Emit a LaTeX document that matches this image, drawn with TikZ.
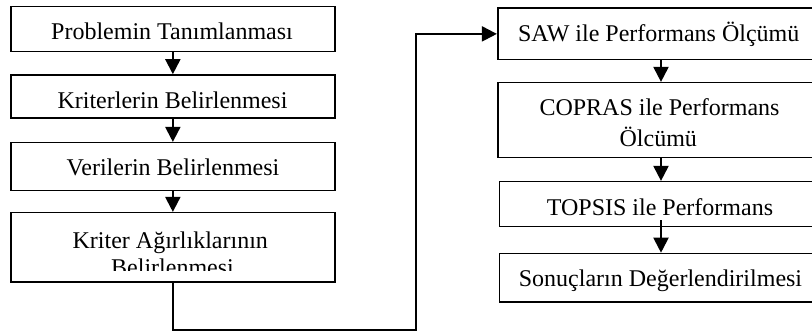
\documentclass[tikz,border=0pt]{standalone}
\usepackage{fontspec}
\setmainfont{Liberation Serif}
\usetikzlibrary{arrows.meta,calc}
\begin{document}
\begin{tikzpicture}[x=1pt,y=-1pt,
  box/.style={draw,line width=1.6pt,rectangle,inner sep=0pt,minimum width=#1},
  txt/.style={anchor=base,inner sep=0pt,font=\fontsize{24}{27.6}\selectfont},
  arr/.style={line width=2pt,-{Triangle[length=15pt,width=15pt]}},
  conn/.style={line width=2.2pt}]
\useasboundingbox (0,0) rectangle (812,334);
\clip (0,0) rectangle (812,334);
% left boxes
\node[box=324.3pt,minimum height=45pt] (b1) at (172.85,29.2) {};
\node[box=324.3pt,minimum height=43.3pt] (b2) at (172.85,96.65) {};
\node[box=324.3pt,minimum height=48pt] (b3) at (172.85,166.7) {};
\node[box=324.3pt,minimum height=69.3pt] (b4) at (172.85,247.35) {};
% right boxes
\node[box=322.3pt,minimum height=51.2pt] (b5) at (658.85,33.9) {};
\node[box=322.3pt,minimum height=75pt] (b6) at (658.85,120.2) {};
\node[box=320.5pt,minimum height=44.8pt] (b7) at (659.75,204.1) {};
\node[box=320.5pt,minimum height=48.2pt] (b8) at (659.75,277.6) {};
% texts
\node[txt] (t1) at (172,39.5) {Problemin Tanımlanması};
\node[txt] (t2) at (172.5,108.3) {Kriterlerin Belirlenmesi};
\node[txt] (t3) at (173,176) {Verilerin Belirlenmesi};
\node[txt] (t4a) at (170.3,248) {Kriter Ağırlıklarının};
\begin{scope}
\clip (90,252) rectangle (260,270.5);
\node[txt] (t4b) at (172.5,275.3) {Belirlenmesi};
\end{scope}
\node[txt] (t5) at (658.7,41.5) {SAW ile Performans Ölçümü};
\node[txt] (t6a) at (659.5,115.5) {COPRAS ile Performans};
\node[txt] (t6b) at (658.3,146.7) {Ölcümü};
\node[txt] (t7) at (660,215) {TOPSIS ile Performans};
\node[txt] (t8) at (660.5,287) {Sonuçların Değerlendirilmesi};
% connectors
\coordinate (ax) at (661,0);
\coordinate (cx) at (416,330);
\draw[arr] (b1.south) -- (b2.north);
\draw[arr] (b2.south) -- (b3.north);
\draw[arr] (b3.south) -- (b4.north);
\draw[arr] (b5.south -| ax) -- (b6.north -| ax);
\draw[arr] (b6.south -| ax) -- (b7.north -| ax);
\draw[arr] ($(b7.south -| ax)+(0,-7)$) -- (b8.north -| ax);
\draw[arr] (b4.south) |- (cx) |- (b5.west);
\end{tikzpicture}
\end{document}
